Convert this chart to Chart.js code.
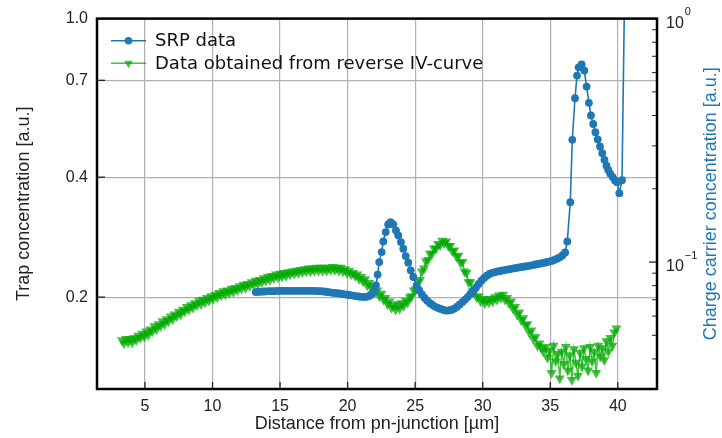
<!DOCTYPE html>
<html lang="en">
  <head>
    <meta charset="UTF-8" />
    <title>Trap concentration vs distance</title>
    <style>
      body { margin: 0; background: #fff; }
    </style>
  </head>
  <body>
    <canvas id="myChart" width="722" height="438"></canvas>

    <script src="https://cdn.jsdelivr.net/npm/chart.js"></script>
    <script>
      // tick positions
      const xTicks = [5, 10, 15, 20, 25, 30, 35, 40];
      const leftTicks = [0.2, 0.4, 0.7, 1.0];
      const leftLabels = ["0.2", "0.4", "0.7", "1.0"];
      const rightMajor = [0.1, 1];
      const rightMinor = [0.03, 0.04, 0.05, 0.06, 0.07, 0.08, 0.09, 0.2, 0.3, 0.4, 0.5, 0.6, 0.7, 0.8, 0.9];

      // SRP data (right axis)
      const srpX = [13.2, 13.4, 13.6, 13.8, 14.0, 14.2, 14.4, 14.6, 14.8, 15.0, 15.2, 15.4, 15.6, 15.8, 16.0, 16.2, 16.4, 16.6, 16.8, 17.0,
        17.2, 17.4, 17.6, 17.8, 18.0, 18.2, 18.4, 18.6, 18.8, 19.0, 19.2, 19.4, 19.6, 19.8, 20.0, 20.2, 20.4, 20.6, 20.8, 21.0,
        21.2, 21.4, 21.6, 21.75, 21.9, 22.1, 22.22, 22.34, 22.52, 22.64, 22.82, 23.0, 23.18, 23.38, 23.58, 23.75, 23.95, 24.12, 24.3, 24.49,
        24.67, 24.86, 25.11, 25.3, 25.5, 25.7, 25.9, 26.1, 26.3, 26.5, 26.7, 26.9, 27.1, 27.3, 27.5, 27.7, 27.9, 28.1, 28.3, 28.5,
        28.7, 28.9, 29.1, 29.3, 29.5, 29.7, 29.9, 30.1, 30.3, 30.5, 30.7, 30.9, 31.1, 31.3, 31.5, 31.7, 31.9, 32.1, 32.3, 32.5,
        32.7, 32.9, 33.1, 33.3, 33.5, 33.7, 33.9, 34.1, 34.3, 34.5, 34.7, 34.9, 35.1, 35.3, 35.5, 35.7, 35.9, 36.1, 36.26, 36.48,
        36.63, 36.83, 36.98, 37.1, 37.32, 37.52, 37.69, 37.86, 38.01, 38.18, 38.34, 38.51, 38.68, 38.85, 39.01, 39.16, 39.29, 39.44, 39.62, 39.79,
        39.94, 40.11, 40.31, 40.6];
      const srpY = [0.0753, 0.0755, 0.0756, 0.0757, 0.0758, 0.0759, 0.0760, 0.0760, 0.0761, 0.0761, 0.0762, 0.0762, 0.0762, 0.0762, 0.0762, 0.0762, 0.0762, 0.0762, 0.0762, 0.0762,
        0.0762, 0.0762, 0.0761, 0.0760, 0.0759, 0.0757, 0.0755, 0.0752, 0.0749, 0.0747, 0.0745, 0.0743, 0.0740, 0.0737, 0.0734, 0.0731, 0.0728, 0.0725, 0.0722, 0.0720,
        0.0719, 0.0720, 0.0726, 0.0736, 0.0753, 0.0802, 0.0888, 0.1000, 0.1099, 0.1216, 0.1328, 0.1428, 0.1459, 0.1428, 0.1349, 0.1287, 0.1208, 0.1135, 0.1058, 0.0994,
        0.0925, 0.0868, 0.0802, 0.0766, 0.0736, 0.0712, 0.0693, 0.0678, 0.0666, 0.0655, 0.0648, 0.0642, 0.0636, 0.0632, 0.0633, 0.0637, 0.0644, 0.0656, 0.0670, 0.0685,
        0.0701, 0.0720, 0.0741, 0.0763, 0.0787, 0.0813, 0.0838, 0.0861, 0.0879, 0.0893, 0.0903, 0.0910, 0.0915, 0.0919, 0.0924, 0.0929, 0.0933, 0.0938, 0.0942, 0.0946,
        0.0951, 0.0955, 0.0959, 0.0963, 0.0967, 0.0972, 0.0977, 0.0982, 0.0987, 0.0992, 0.0998, 0.1004, 0.1011, 0.1020, 0.1032, 0.1046, 0.1064, 0.1095, 0.1216, 0.1762,
        0.3178, 0.471, 0.5835, 0.631, 0.6477, 0.6117, 0.526, 0.4508, 0.3999, 0.369, 0.3416, 0.3193, 0.2984, 0.2801, 0.263, 0.2486, 0.2389, 0.2305, 0.2233, 0.2164,
        0.2129, 0.1919, 0.217, 3.3];

      // reverse IV-curve data (left axis)
      const ivX = [3.3, 3.45, 3.6, 3.75, 3.9, 4.05, 4.2, 4.35, 4.5, 4.65,
        4.8, 4.95, 5.1, 5.25, 5.4, 5.55, 5.7, 5.85, 6.0, 6.15,
        6.3, 6.45, 6.6, 6.75, 6.9, 7.05, 7.2, 7.35, 7.5, 7.65,
        7.8, 7.95, 8.1, 8.25, 8.4, 8.55, 8.7, 8.85, 9.0, 9.15,
        9.3, 9.45, 9.6, 9.75, 9.9, 10.05, 10.2, 10.35, 10.5, 10.65,
        10.8, 10.95, 11.1, 11.25, 11.4, 11.55, 11.7, 11.85, 12.0, 12.15,
        12.3, 12.45, 12.6, 12.75, 12.9, 13.05, 13.2, 13.35, 13.5, 13.65,
        13.8, 13.95, 14.1, 14.25, 14.4, 14.55, 14.7, 14.85, 15.0, 15.15,
        15.3, 15.45, 15.6, 15.75, 15.9, 16.05, 16.2, 16.35, 16.5, 16.65,
        16.8, 16.95, 17.1, 17.25, 17.4, 17.55, 17.7, 17.85, 18.0, 18.15,
        18.3, 18.45, 18.6, 18.75, 18.9, 19.05, 19.2, 19.35, 19.5, 19.65,
        19.8, 19.95, 20.1, 20.25, 20.4, 20.55, 20.7, 20.85, 21.0, 21.15,
        21.3, 21.45, 21.6, 21.75, 21.9, 22.05, 22.2, 22.35, 22.5, 22.65,
        22.8, 22.95, 23.1, 23.25, 23.4, 23.55, 23.7, 23.85, 24.0, 24.15,
        24.3, 24.45, 24.6, 24.75, 24.9, 25.05, 25.2, 25.35, 25.5, 25.65,
        25.8, 25.95, 26.1, 26.25, 26.4, 26.55, 26.7, 26.85, 27.0, 27.15,
        27.3, 27.45, 27.6, 27.75, 27.9, 28.05, 28.2, 28.35, 28.5, 28.65,
        28.8, 28.95, 29.1, 29.25, 29.4, 29.55, 29.7, 29.85, 30.0, 30.15,
        30.3, 30.45, 30.6, 30.75, 30.9, 31.05, 31.2, 31.35, 31.5, 31.65,
        31.8, 31.95, 32.1, 32.25, 32.4, 32.55, 32.7, 32.85, 33.0, 33.15,
        33.3, 33.45, 33.6, 33.75, 33.9, 34.05, 34.2, 34.35, 34.5, 34.65,
        34.8, 34.95, 35.1, 35.25, 35.4, 35.55, 35.7, 35.85, 36.0, 36.15,
        36.3, 36.45, 36.6, 36.75, 36.9, 37.05, 37.2, 37.35, 37.5, 37.65,
        37.8, 37.95, 38.1, 38.25, 38.4, 38.55, 38.7, 38.85, 39.0, 39.15,
        39.3, 39.45, 39.6, 39.75, 39.9];
      const ivY = [0.156, 0.153, 0.157, 0.154, 0.157, 0.154, 0.158, 0.156, 0.160, 0.158,
        0.162, 0.159, 0.164, 0.161, 0.166, 0.164, 0.169, 0.166, 0.171, 0.169,
        0.174, 0.171, 0.176, 0.174, 0.179, 0.176, 0.181, 0.179, 0.184, 0.181,
        0.186, 0.184, 0.189, 0.186, 0.191, 0.188, 0.193, 0.191, 0.196, 0.192,
        0.197, 0.194, 0.199, 0.196, 0.201, 0.198, 0.203, 0.200, 0.205, 0.202,
        0.207, 0.203, 0.208, 0.205, 0.210, 0.206, 0.211, 0.208, 0.213, 0.210,
        0.215, 0.211, 0.216, 0.213, 0.218, 0.215, 0.220, 0.216, 0.221, 0.218,
        0.223, 0.220, 0.225, 0.221, 0.226, 0.223, 0.228, 0.224, 0.229, 0.225,
        0.230, 0.226, 0.231, 0.228, 0.232, 0.229, 0.233, 0.230, 0.234, 0.231,
        0.235, 0.232, 0.236, 0.232, 0.236, 0.233, 0.237, 0.233, 0.237, 0.233,
        0.237, 0.233, 0.237, 0.234, 0.238, 0.234, 0.237, 0.233, 0.237, 0.232,
        0.235, 0.230, 0.233, 0.228, 0.230, 0.226, 0.228, 0.222, 0.225, 0.219,
        0.222, 0.214, 0.217, 0.211, 0.213, 0.206, 0.208, 0.201, 0.204, 0.197,
        0.199, 0.192, 0.195, 0.188, 0.191, 0.186, 0.192, 0.187, 0.193, 0.190,
        0.196, 0.194, 0.200, 0.201, 0.208, 0.209, 0.218, 0.221, 0.232, 0.236,
        0.246, 0.248, 0.257, 0.257, 0.265, 0.265, 0.272, 0.270, 0.277, 0.273,
        0.276, 0.269, 0.269, 0.261, 0.262, 0.253, 0.254, 0.244, 0.245, 0.232,
        0.230, 0.218, 0.218, 0.207, 0.207, 0.200, 0.201, 0.195, 0.198, 0.193,
        0.197, 0.194, 0.198, 0.195, 0.200, 0.197, 0.202, 0.199, 0.203, 0.197,
        0.199, 0.193, 0.195, 0.187, 0.189, 0.181, 0.183, 0.175, 0.177, 0.170,
        0.171, 0.163, 0.165, 0.157, 0.159, 0.151, 0.153, 0.149, 0.146, 0.150,
        0.141, 0.147, 0.129, 0.151, 0.138, 0.144, 0.125, 0.146, 0.136, 0.150,
        0.131, 0.143, 0.124, 0.148, 0.137, 0.127, 0.145, 0.134, 0.149, 0.140,
        0.131, 0.150, 0.138, 0.146, 0.129, 0.151, 0.142, 0.149, 0.139, 0.155,
        0.146, 0.158, 0.151, 0.163, 0.167];

      const blue = "#1f77b4";
      const green = "rgba(0, 172, 0, 0.74)";
      const tickFont = { family: "'Liberation Sans', Arial, sans-serif", size: 16 };
      const titleFont = { family: "'Liberation Sans', Arial, sans-serif", size: 18 };

      const framePlugin = {
        id: "frame",
        afterDraw(chart) {
          const ctx = chart.ctx;
          const a = chart.chartArea;
          const sx = chart.scales.x, sy = chart.scales.y, sy2 = chart.scales.y2;
          function seg(x1, y1, x2, y2) {
            ctx.beginPath(); ctx.moveTo(x1, y1); ctx.lineTo(x2, y2); ctx.stroke();
          }
          ctx.save();
          ctx.strokeStyle = "#222";
          ctx.lineWidth = 1.3;
          xTicks.forEach(v => { const p = sx.getPixelForValue(v); seg(p, a.bottom, p, a.bottom - 7); });
          leftTicks.forEach(v => { const p = sy.getPixelForValue(v); seg(a.left, p, a.left + 8, p); });
          rightMajor.forEach(v => { const p = sy2.getPixelForValue(v); seg(a.right, p, a.right - 8, p); });
          ctx.lineWidth = 1;
          rightMinor.forEach(v => { const p = sy2.getPixelForValue(v); seg(a.right, p, a.right - 5, p); });

          ctx.lineWidth = 2.5;
          ctx.strokeStyle = "#000";
          ctx.strokeRect(a.left, a.top, a.right - a.left, a.bottom - a.top);

          // right tick labels 10^0, 10^-1
          ctx.fillStyle = "#222";
          ctx.textAlign = "left";
          ctx.textBaseline = "alphabetic";
          rightMajor.forEach(v => {
            const p = sy2.getPixelForValue(v);
            ctx.font = "16px 'Liberation Sans', Arial, sans-serif";
            ctx.fillText("10", a.right + 9, p + 9);
            const w = ctx.measureText("10").width;
            ctx.font = "11px 'Liberation Sans', Arial, sans-serif";
            ctx.fillText(v === 1 ? "0" : "\u22121", a.right + 9 + w + 1, p - 3.5);
          });

          // right axis title, reading bottom to top
          ctx.save();
          ctx.translate(711, (a.top + a.bottom) / 2);
          ctx.rotate(-Math.PI / 2);
          ctx.textAlign = "center";
          ctx.textBaseline = "middle";
          ctx.fillStyle = blue;
          ctx.font = "18px 'Liberation Sans', Arial, sans-serif";
          ctx.fillText("Charge carrier concentration [a.u.]", 0, 0);
          ctx.restore();

          // legend
          const ds = chart.data.datasets;
          const rows = [40.7, 63.3];
          ctx.font = "18px 'DejaVu Sans', sans-serif";
          ctx.textAlign = "left";
          ctx.textBaseline = "middle";
          ds.forEach((d, i) => {
            const y = rows[i];
            ctx.strokeStyle = d.borderColor;
            ctx.lineWidth = 1.6;
            seg(111, y, 146, y);
            ctx.fillStyle = d.pointBackgroundColor;
            ctx.beginPath();
            if (i === 0) {
              ctx.arc(128.5, y, 3.8, 0, Math.PI * 2);
            } else {
              ctx.moveTo(128.5 - 4.3, y - 2.5);
              ctx.lineTo(128.5 + 4.3, y - 2.5);
              ctx.lineTo(128.5, y + 5);
              ctx.closePath();
            }
            ctx.fill();
            ctx.fillStyle = "#111";
            ctx.fillText(d.label, 155, y + 1);
          });
          ctx.restore();
        }
      };

      const ctx = document.getElementById("myChart");
      const myChart = new Chart(ctx, {
        type: "line",
        data: {
          datasets: [
            {
              label: "SRP data",
              data: srpX.map((x, i) => ({ x: x, y: srpY[i] })),
              yAxisID: "y2",
              borderColor: blue,
              backgroundColor: blue,
              pointBackgroundColor: blue,
              borderWidth: 1.6,
              pointRadius: 3.9,
              pointBorderWidth: 0,
              tension: 0
            },
            {
              label: "Data obtained from reverse IV-curve",
              data: ivX.map((x, i) => ({ x: x, y: ivY[i] })),
              yAxisID: "y",
              borderColor: green,
              backgroundColor: green,
              pointBackgroundColor: green,
              borderWidth: 1.5,
              pointStyle: "triangle",
              pointRotation: 180,
              pointRadius: 5.8,
              pointBorderWidth: 0,
              tension: 0
            }
          ]
        },
        options: {
          responsive: false,
          animation: false,
          devicePixelRatio: 1,
          layout: { padding: { top: 18, left: 0, right: 0, bottom: 0 } },
          plugins: { legend: { display: false }, tooltip: { enabled: false } },
          scales: {
            x: {
              type: "linear",
              min: 1.45,
              max: 42.9,
              afterBuildTicks: s => { s.ticks = xTicks.map(v => ({ value: v })); },
              afterFit: s => { s.height = 49; },
              grid: { color: "#b0b0b0", lineWidth: 1.2, drawTicks: false },
              border: { display: false },
              ticks: { font: tickFont, color: "#222", padding: 8, maxRotation: 0 },
              title: {
                display: true,
                text: "Distance from pn-junction [\u00b5m]",
                font: titleFont,
                color: "#222",
                padding: { top: 0, bottom: 3 }
              }
            },
            y: {
              type: "logarithmic",
              position: "left",
              min: 0.1176,
              max: 1.0,
              afterBuildTicks: s => { s.ticks = leftTicks.map(v => ({ value: v })); },
              afterFit: s => { s.width = 97; },
              grid: { color: "#b0b0b0", lineWidth: 1.2, drawTicks: false },
              border: { display: false },
              ticks: {
                font: tickFont,
                color: "#222",
                padding: 9,
                callback: v => leftLabels[leftTicks.indexOf(v)]
              },
              title: {
                display: true,
                text: "Trap concentration [a.u.]",
                font: titleFont,
                color: "#222",
                padding: { top: 13, bottom: 0 }
              }
            },
            y2: {
              type: "logarithmic",
              position: "right",
              min: 0.0301,
              max: 1,
              afterFit: s => { s.width = 65; },
              grid: { display: false, drawTicks: false },
              border: { display: false },
              ticks: { display: false },
              title: { display: false }
            }
          }
        },
        plugins: [framePlugin]
      });
    </script>
  </body>
</html>
